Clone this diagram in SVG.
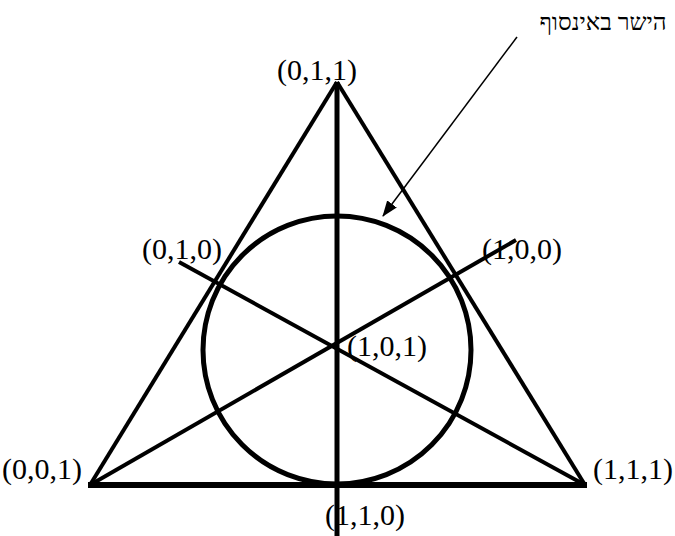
<svg xmlns="http://www.w3.org/2000/svg" width="675" height="536" viewBox="0 0 675 536">
<style>
.lbl{font-family:"Liberation Serif","Times New Roman",serif;font-size:30px;fill:#000}
.heb{font-family:"Liberation Serif","DejaVu Serif","Noto Sans",serif;font-size:24px;fill:#000}
.ln{stroke:#000;fill:none;stroke-linecap:butt}
</style>
<defs>
<marker id="ah" markerWidth="16" markerHeight="12" refX="15" refY="6" orient="auto" markerUnits="userSpaceOnUse">
<path d="M0,0 L16,6 L0,12 Z" fill="#000"/>
</marker>
</defs>
<rect width="675" height="536" fill="#fff"/>
<g id="connectors">
<line class="ln" x1="337" y1="82" x2="90" y2="485" stroke-width="4"/>
<line class="ln" x1="337" y1="82" x2="585" y2="485" stroke-width="4"/>
<line class="ln" x1="88" y1="485" x2="587" y2="485" stroke-width="6"/>
<line class="ln" x1="337" y1="82" x2="337" y2="536" stroke-width="5"/>
<line class="ln" x1="179" y1="262" x2="585" y2="485" stroke-width="4"/>
<line class="ln" x1="90" y1="485" x2="516" y2="240" stroke-width="4"/>
<circle class="ln" cx="337" cy="350" r="134" stroke-width="5"/>
<line class="ln" x1="517" y1="37" x2="383" y2="216" stroke-width="1.5" marker-end="url(#ah)"/>
</g>
<g id="n011"><text class="lbl" x="277" y="80">(0,1,1)</text></g>
<g id="n010"><text class="lbl" x="142" y="259">(0,1,0)</text></g>
<g id="n100"><text class="lbl" x="482" y="259">(1,0,0)</text></g>
<g id="n101"><text class="lbl" x="347" y="356">(1,0,1)</text></g>
<g id="n001"><text class="lbl" x="2" y="479">(0,0,1)</text></g>
<g id="n111"><text class="lbl" x="593" y="479">(1,1,1)</text></g>
<g id="n110"><text class="lbl" x="325" y="525">(1,1,0)</text></g>
<g id="infinity"><text class="heb" x="603" y="30" text-anchor="middle">הישר באינסוף</text></g>
</svg>
